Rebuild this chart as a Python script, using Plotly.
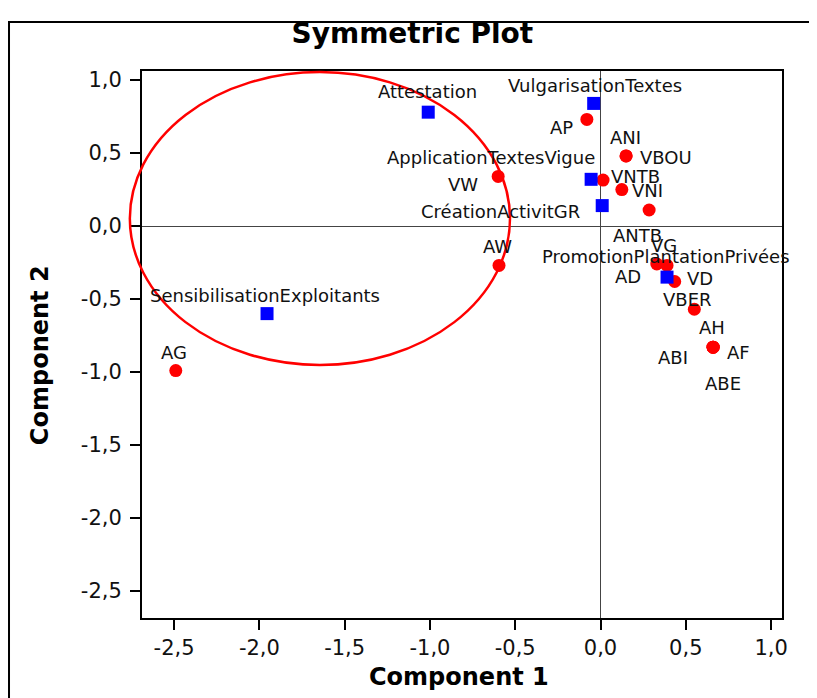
import plotly.graph_objects as go

# ---- data ----
row_names = ["AP", "ANI", "VBOU", "VW", "VNTB", "VNI", "ANTB", "AW", "VG", "AD",
             "VD", "VBER", "AH", "AF", "ABI", "ABE", "AG"]
row_x = [-0.08, 0.15, 0.15, -0.60, 0.015, 0.125, 0.285, -0.595, 0.33, 0.39,
         0.435, 0.55, 0.66, 0.66, 0.66, 0.66, -2.49]
row_y = [0.73, 0.48, 0.48, 0.34, 0.315, 0.25, 0.11, -0.27, -0.26, -0.27,
         -0.38, -0.57, -0.83, -0.83, -0.83, -0.83, -0.99]

col_names = ["Attestation", "VulgarisationTextes", "ApplicationTextesVigue",
             "CréationActivitGR", "PromotionPlantationPrivées", "SensibilisationExploitants"]
col_x = [-1.01, -0.04, -0.055, 0.01, 0.39, -1.955]
col_y = [0.78, 0.84, 0.32, 0.14, -0.35, -0.60]

x_ticks = [-2.5, -2.0, -1.5, -1.0, -0.5, 0.0, 0.5, 1.0]
x_tick_text = ["-2,5", "-2,0", "-1,5", "-1,0", "-0,5", "0,0", "0,5", "1,0"]
y_ticks = [1.0, 0.5, 0.0, -0.5, -1.0, -1.5, -2.0, -2.5]
y_tick_text = ["1,0", "0,5", "0,0", "-0,5", "-1,0", "-1,5", "-2,0", "-2,5"]

# ---- label placement (pixel offsets: dx right, dy down) ----
row_offsets = {
    "AP": (-25, 8), "ANI": (-1, -18), "VBOU": (40, 2), "VW": (-35, 8),
    "VNTB": (32, -4), "VNI": (26, 1), "ANTB": (-12, 26), "AW": (-2, -19),
    "VG": (7, -18), "AD": (-39, 11), "VD": (25, -3), "VBER": (-7, -10),
    "AH": (-1, -20), "AF": (25, 5), "ABI": (-40, 10), "ABE": (10, 36),
    "AG": (-2, -18),
}
col_offsets = {
    "Attestation": (-1, -21), "VulgarisationTextes": (1, -18),
    "ApplicationTextesVigue": (-100, -22), "CréationActivitGR": (-102, 6),
    "PromotionPlantationPrivées": (-1, -21), "SensibilisationExploitants": (-2, -18),
}

LABEL_FONT = dict(family="DejaVu Sans", size=18, color="#111111")

fig = go.Figure()
fig.add_trace(go.Scatter(x=row_x, y=row_y, mode="markers",
                         marker=dict(symbol="circle", size=13, color="#FF0000",
                                     line=dict(width=0)),
                         showlegend=False, hoverinfo="skip"))
fig.add_trace(go.Scatter(x=col_x, y=col_y, mode="markers",
                         marker=dict(symbol="square", size=13, color="#0000FF",
                                     line=dict(width=0)),
                         showlegend=False, hoverinfo="skip"))

annotations = []
for n, x, y in zip(row_names, row_x, row_y):
    dx, dy = row_offsets[n]
    annotations.append(dict(x=x, y=y, xref="x", yref="y", text=n, showarrow=False,
                            xanchor="center", yanchor="middle",
                            xshift=dx, yshift=-dy, font=LABEL_FONT))
for n, x, y in zip(col_names, col_x, col_y):
    dx, dy = col_offsets[n]
    annotations.append(dict(x=x, y=y, xref="x", yref="y", text=n, showarrow=False,
                            xanchor="center", yanchor="middle",
                            xshift=dx, yshift=-dy, font=LABEL_FONT))

# axis titles
annotations.append(dict(text="<b>Component 1</b>", xref="paper", yref="paper",
                        x=0.495, y=-0.108, showarrow=False,
                        xanchor="center", yanchor="middle",
                        font=dict(family="DejaVu Sans", size=24, color="#000")))
annotations.append(dict(text="<b>Component 2</b>", xref="paper", yref="paper",
                        x=-0.159, y=0.481, showarrow=False, textangle=-90,
                        xanchor="center", yanchor="middle",
                        font=dict(family="DejaVu Sans", size=24, color="#000")))

shapes = [
    # hand-drawn ellipse highlight
    dict(type="circle", xref="paper", yref="paper",
         x0=-0.019, x1=0.575, y0=0.4625, y1=0.998,
         line=dict(color="#FF0000", width=2.5), layer="above"),
    # outer frame
    dict(type="rect", xref="paper", yref="paper",
         x0=-0.2078, x1=1.3, y0=-0.4, y1=1.0896,
         line=dict(color="#000", width=2), layer="above"),
]

# the page body adds an 8px margin, so the figure is 8px smaller than the window
fig.update_layout(
    width=809, height=690,
    margin=dict(l=134, r=35, t=63, b=80),
    paper_bgcolor="white", plot_bgcolor="white",
    separators=",.",
    title=dict(text="<b>Symmetric Plot</b>", x=0.4225, xref="paper",
               y=1 - 25 / 690, yref="container", xanchor="center", yanchor="middle",
               font=dict(family="DejaVu Sans", size=28, color="#000")),
    annotations=annotations,
    shapes=shapes,
    xaxis=dict(range=[-2.688, 1.064], tickvals=x_ticks, ticktext=x_tick_text,
               showgrid=False, zeroline=True, zerolinecolor="#444", zerolinewidth=1,
               showline=True, linecolor="#000", linewidth=2, mirror=True,
               ticks="outside", ticklen=10, tickwidth=2, tickcolor="#000",
               tickfont=dict(family="DejaVu Sans", size=21, color="#111")),
    yaxis=dict(range=[-2.685, 1.062], tickvals=y_ticks, ticktext=y_tick_text,
               showgrid=False, zeroline=True, zerolinecolor="#444", zerolinewidth=1,
               showline=True, linecolor="#000", linewidth=2, mirror=True,
               ticks="outside", ticklen=10, tickwidth=2, tickcolor="#000",
               ticklabelstandoff=4,
               tickfont=dict(family="DejaVu Sans", size=21, color="#111")),
)

fig.write_html("out.html")
